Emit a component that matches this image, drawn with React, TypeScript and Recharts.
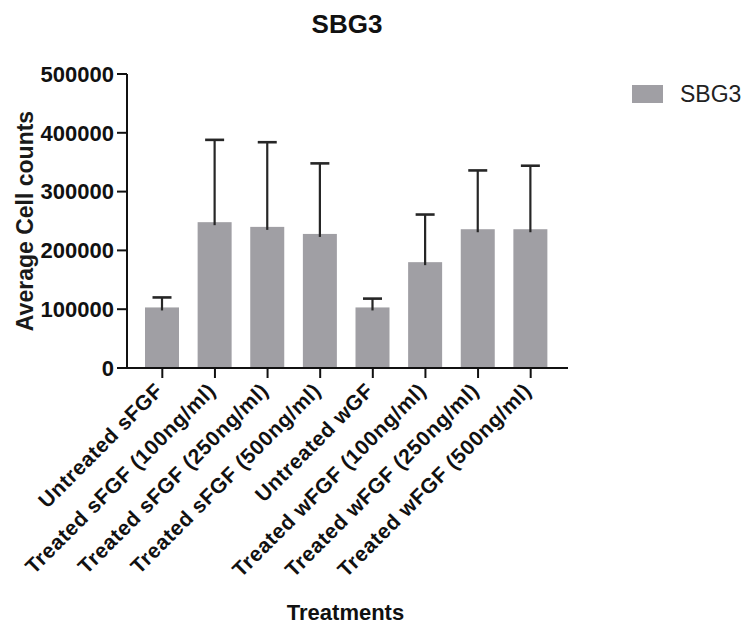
import React from "react";
import { BarChart, Bar, XAxis, YAxis, Legend } from "recharts";

const categories = [
  "Untreated sFGF",
  "Treated sFGF (100ng/ml)",
  "Treated sFGF (250ng/ml)",
  "Treated sFGF (500ng/ml)",
  "Untreated wGF",
  "Treated wFGF (100ng/ml)",
  "Treated wFGF (250ng/ml)",
  "Treated wFGF (500ng/ml)",
];
const meanCounts = [103000, 248000, 240000, 228000, 103000, 180000, 236000, 236000];
const errorUpper = [17000, 140000, 144000, 120000, 15000, 81000, 100000, 108000];
const yTicks = [0, 100000, 200000, 300000, 400000, 500000];

const data = categories.map((name, i) => ({
  name,
  SBG3: meanCounts[i],
  err: errorUpper[i],
}));

const FONT = "'Liberation Sans', Arial, Helvetica, sans-serif";
const BAR_COLOR = "#a09fa4";
const INK = "#111";

const BarWithError = (props: any) => {
  const { x, y, width, height, payload, fill } = props;
  const v = payload.SBG3;
  const errH = v ? (height * payload.err) / v : 0;
  const cx = x + width / 2;
  const top = y - errH;
  return (
    <g>
      <rect x={x} y={y} width={width} height={height} fill={fill} />
      <line x1={cx} y1={y + 3} x2={cx} y2={top} stroke="#262626" strokeWidth={2.2} />
      <line x1={cx - 9.5} y1={top} x2={cx + 9.5} y2={top} stroke="#262626" strokeWidth={2.6} />
    </g>
  );
};

const XTick = (props: any) => {
  const { x, y, payload } = props;
  const tx = x + 2;
  const ty = y + 12;
  return (
    <text
      x={tx}
      y={ty}
      transform={`rotate(-45 ${tx} ${ty})`}
      textAnchor="end"
      fontFamily={FONT}
      fontSize={21}
      fontWeight="bold"
      letterSpacing={0.6}
      fill={INK}
    >
      {payload.value}
    </text>
  );
};

const LegendContent = () => (
  <div style={{ display: "flex", alignItems: "center", fontFamily: FONT }}>
    <div style={{ width: 31, height: 18, background: BAR_COLOR }} />
    <span style={{ marginLeft: 17, fontSize: 23, color: "#222", lineHeight: "18px" }}>SBG3</span>
  </div>
);

export default function App() {
  return (
    <div style={{ position: "absolute", left: 0, top: 0, width: 745, height: 626, background: "#fff" }}>
      <div
        style={{
          position: "absolute",
          left: 0,
          top: 9,
          width: 694,
          textAlign: "center",
          fontFamily: FONT,
          fontSize: 26,
          lineHeight: "30px",
          fontWeight: "bold",
          color: INK,
        }}
      >
        SBG3
      </div>
      <BarChart
        width={745}
        height={626}
        data={data}
        margin={{ top: 74, right: 64, left: 0, bottom: 0 }}
        barSize={34}
      >
        <XAxis
          dataKey="name"
          interval={0}
          height={258}
          padding={{ left: 9, right: 11 }}
          tick={<XTick />}
          tickSize={10}
          tickLine={{ stroke: INK, strokeWidth: 2 }}
          axisLine={{ stroke: INK, strokeWidth: 2 }}
          label={{
            content: (p: any) => {
              const vb = p.viewBox;
              return (
                <text
                  x={vb.x + vb.width / 2 - 2}
                  y={vb.y + 252}
                  textAnchor="middle"
                  fontFamily={FONT}
                  fontSize={22}
                  fontWeight="bold"
                  fill={INK}
                >
                  Treatments
                </text>
              );
            },
          }}
        />
        <YAxis
          width={127}
          domain={[0, 500000]}
          ticks={yTicks}
          interval={0}
          tickSize={10}
          tickMargin={3}
          tick={{ fontFamily: FONT, fontSize: 22, fontWeight: "bold", fill: INK }}
          tickLine={{ stroke: INK, strokeWidth: 2 }}
          axisLine={{ stroke: INK, strokeWidth: 2 }}
          label={{
            content: (p: any) => {
              const vb = p.viewBox;
              const lx = vb.x + 33;
              const ly = vb.y + vb.height / 2;
              return (
                <text
                  x={lx}
                  y={ly}
                  transform={`rotate(-90 ${lx} ${ly})`}
                  textAnchor="middle"
                  fontFamily={FONT}
                  fontSize={23}
                  fontWeight="bold"
                  fill="#1a1a1a"
                >
                  Average Cell counts
                </text>
              );
            },
          }}
        />
        <Legend
          layout="vertical"
          verticalAlign="top"
          align="right"
          content={<LegendContent />}
          wrapperStyle={{ position: "absolute", left: 632, top: 85, width: 113 }}
        />
        <Bar dataKey="SBG3" fill={BAR_COLOR} shape={<BarWithError />} isAnimationActive={false} />
      </BarChart>
    </div>
  );
}
